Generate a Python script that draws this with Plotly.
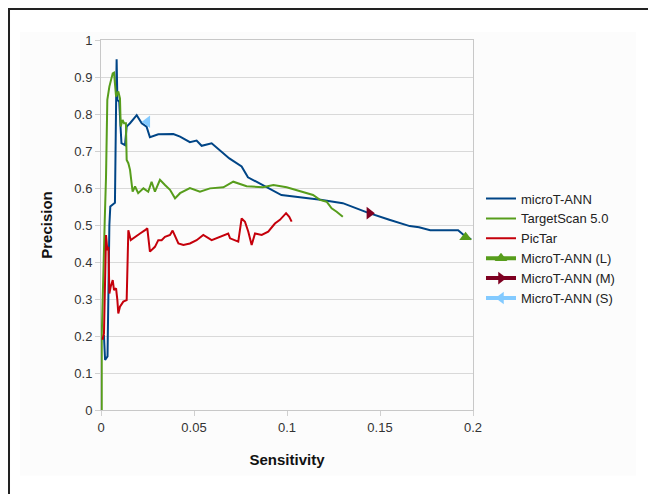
import plotly.graph_objects as go

# microT-ANN
mt_x = [0.0012, 0.0016, 0.0022, 0.0035, 0.0045, 0.0050, 0.0075, 0.0084, 0.0088, 0.0098, 0.0106, 0.0110,
        0.0129, 0.0138, 0.0156, 0.0192, 0.0219, 0.0245, 0.0263, 0.0308, 0.0389, 0.0425, 0.0478, 0.0514,
        0.0541, 0.0595, 0.069, 0.0756, 0.079, 0.087, 0.097, 0.118, 0.130, 0.143, 0.150, 0.155, 0.166,
        0.171, 0.177, 0.192, 0.195, 0.199]
mt_y = [0.20, 0.20, 0.135, 0.145, 0.50, 0.55, 0.56, 0.948, 0.838, 0.833, 0.757, 0.721,
        0.716, 0.766, 0.775, 0.797, 0.775, 0.766, 0.737, 0.745, 0.746, 0.739, 0.724, 0.728,
        0.714, 0.721, 0.680, 0.658, 0.629, 0.608, 0.581, 0.568, 0.559, 0.534, 0.522, 0.514, 0.497,
        0.494, 0.486, 0.486, 0.473, 0.461]

# TargetScan 5.0
ts_x = [0.0004, 0.0004, 0.002, 0.0027, 0.0034, 0.0045, 0.0063, 0.007, 0.0081, 0.0093, 0.0102, 0.0106,
        0.0116, 0.0124, 0.0134, 0.0138, 0.0147, 0.0156, 0.017, 0.0183, 0.020, 0.0228, 0.0254, 0.0272,
        0.029, 0.0317, 0.0344, 0.0371, 0.0398, 0.0425, 0.0478, 0.0532, 0.0586, 0.0658, 0.0711, 0.0783,
        0.087, 0.0927, 0.0998, 0.105, 0.1106, 0.114, 0.1177, 0.1213, 0.124, 0.1267, 0.130]
ts_y = [0.0, 0.2, 0.51, 0.63, 0.838, 0.874, 0.91, 0.912, 0.847, 0.861, 0.842, 0.766,
        0.784, 0.775, 0.775, 0.676, 0.667, 0.649, 0.59, 0.604, 0.586, 0.599, 0.59, 0.617,
        0.59, 0.622, 0.608, 0.595, 0.572, 0.586, 0.60, 0.59, 0.599, 0.602, 0.617, 0.605,
        0.602, 0.608, 0.602, 0.595, 0.586, 0.581, 0.568, 0.563, 0.545, 0.536, 0.522]

# PicTar
pt_x = [0.0008, 0.0016, 0.0027, 0.0034, 0.004, 0.0045, 0.0052, 0.0063, 0.007, 0.0081, 0.0088, 0.0093,
        0.0102, 0.012, 0.0138, 0.0147, 0.016, 0.0183, 0.021, 0.0237, 0.0249, 0.0263, 0.029, 0.0308,
        0.0326, 0.0344, 0.0371, 0.0385, 0.0398, 0.0416, 0.0443, 0.0478, 0.0514, 0.055, 0.0595, 0.064,
        0.0684, 0.0694, 0.0738, 0.0756, 0.0774, 0.0792, 0.081, 0.0828, 0.0864, 0.0899, 0.0935, 0.0962,
        0.0995, 0.1012, 0.1025]
pt_y = [0.19, 0.207, 0.473, 0.432, 0.441, 0.315, 0.333, 0.351, 0.324, 0.329, 0.297, 0.261,
        0.279, 0.293, 0.297, 0.486, 0.459, 0.468, 0.477, 0.486, 0.491, 0.428, 0.441, 0.459,
        0.459, 0.468, 0.473, 0.485, 0.468, 0.450, 0.446, 0.450, 0.459, 0.473, 0.459, 0.468,
        0.477, 0.464, 0.455, 0.518, 0.509, 0.482, 0.446, 0.477, 0.473, 0.482, 0.504, 0.514,
        0.532, 0.522, 0.509]

# Single operating points
L_x, L_y = [0.196], [0.467]
M_x, M_y = [0.1443], [0.532]
S_x, S_y = [0.0249], [0.779]

x_ticks = [0, 0.05, 0.1, 0.15, 0.2]
x_labels = ["0", "0.05", "0.1", "0.15", "0.2"]
y_ticks = [0, 0.1, 0.2, 0.3, 0.4, 0.5, 0.6, 0.7, 0.8, 0.9, 1]
y_labels = ["0", "0.1", "0.2", "0.3", "0.4", "0.5", "0.6", "0.7", "0.8", "0.9", "1"]

fig = go.Figure()
fig.add_trace(go.Scatter(x=mt_x, y=mt_y, mode="lines", name="microT-ANN",
                         line=dict(color="#004586", width=2)))
fig.add_trace(go.Scatter(x=ts_x, y=ts_y, mode="lines", name="TargetScan 5.0",
                         line=dict(color="#579d1c", width=2)))
fig.add_trace(go.Scatter(x=pt_x, y=pt_y, mode="lines", name="PicTar",
                         line=dict(color="#c5000b", width=2)))
fig.add_trace(go.Scatter(x=L_x, y=L_y, mode="lines+markers", name="MicroT-ANN (L)",
                         line=dict(color="#579d1c", width=4),
                         marker=dict(symbol="triangle-up", size=11, color="#579d1c")))
fig.add_trace(go.Scatter(x=M_x, y=M_y, mode="lines+markers", name="MicroT-ANN (M)",
                         line=dict(color="#7e0021", width=4),
                         marker=dict(symbol="triangle-right", size=11, color="#7e0021")))
fig.add_trace(go.Scatter(x=S_x, y=S_y, mode="lines+markers", name="MicroT-ANN (S)",
                         line=dict(color="#83caff", width=4),
                         marker=dict(symbol="triangle-left", size=11, color="#83caff")))

fig.update_layout(
    width=648, height=486,
    margin=dict(l=93, r=183, t=32, b=84),
    paper_bgcolor="white", plot_bgcolor="white",
    font=dict(family="Liberation Sans, Arial, sans-serif", color="#333333", size=13),
    showlegend=True,
    legend=dict(x=1.0215, xanchor="left", y=0.612, yanchor="top",
                font=dict(size=13, color="#222222"), bgcolor="rgba(0,0,0,0)",
                tracegroupgap=0),
    xaxis=dict(range=[0, 0.2], tickvals=x_ticks, ticktext=x_labels,
               showgrid=False, zeroline=False, showline=True, linecolor="#c8c8c8",
               linewidth=1, mirror=True, ticks="outside", ticklen=5, tickcolor="#d0d0d0",
               tickfont=dict(size=13, color="#333333"),
               title=dict(text="<b>Sensitivity</b>", font=dict(size=15, color="#111111"),
                          standoff=20)),
    yaxis=dict(range=[0, 1], tickvals=y_ticks, ticktext=y_labels,
               showgrid=True, gridcolor="#d9d9d9", gridwidth=1, zeroline=False,
               showline=True, linecolor="#c8c8c8", linewidth=1, mirror=True,
               ticks="outside", ticklen=5, tickcolor="#d0d0d0",
               tickfont=dict(size=13, color="#333333"),
               title=dict(text="<b>Precision</b>", font=dict(size=15, color="#111111"),
                          standoff=18)),
    shapes=[
        dict(type="rect", xref="paper", yref="paper", x0=-0.2177, x1=1.438, y0=-0.178, y1=1.0216,
             fillcolor="#fcfcfc", line=dict(width=0), layer="below"),
        dict(type="line", xref="paper", yref="paper", x0=-0.26, x1=1.5, y0=1.0838, y1=1.0838,
             line=dict(color="#222222", width=2)),
        dict(type="line", xref="paper", yref="paper", x0=-0.2473, x1=-0.2473, y0=1.0838, y1=-0.3,
             line=dict(color="#222222", width=2)),
    ],
)

fig.write_html("out.html")
